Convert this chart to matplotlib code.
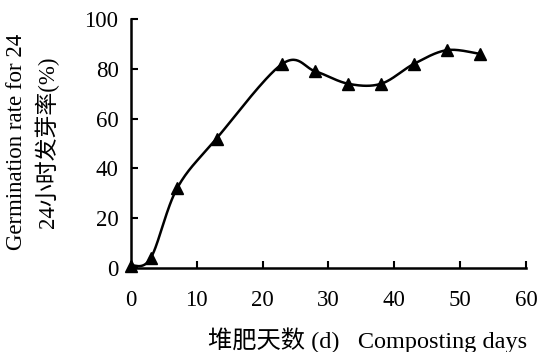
import numpy as np
import matplotlib
matplotlib.use('Agg')
import matplotlib.pyplot as plt

plt.rcParams['font.family'] = ['Liberation Serif', 'Noto Sans CJK SC']

days = [0, 3, 7, 13, 23, 28, 33, 38, 43, 48, 53]
rate = [1, 4, 32, 52, 82, 79, 74, 74, 82, 87.5, 86]
xticks = [0, 10, 20, 30, 40, 50, 60]
yticks = [0, 20, 40, 60, 80, 100]


def smooth(x, y, n=30):
    # Catmull-Rom style smoothing like a spreadsheet "smoothed line"
    x = np.asarray(x, float); y = np.asarray(y, float)
    px = np.concatenate([[x[0]], x, [x[-1]]])
    py = np.concatenate([[y[0]], y, [y[-1]]])
    xs, ys = [], []
    t = np.linspace(0, 1, n)
    for i in range(1, len(px) - 2):
        p0, p1, p2, p3 = [np.array([px[j], py[j]]) for j in (i - 1, i, i + 1, i + 2)]
        c1 = p1 + (p2 - p0) / 6
        c2 = p2 - (p3 - p1) / 6
        pts = ((1 - t) ** 3)[:, None] * p1 + (3 * (1 - t) ** 2 * t)[:, None] * c1 \
            + (3 * (1 - t) * t ** 2)[:, None] * c2 + (t ** 3)[:, None] * p2
        xs.append(pts[:, 0]); ys.append(pts[:, 1])
    return np.concatenate(xs), np.concatenate(ys)


fig = plt.figure(figsize=(5.38, 3.52), dpi=100)
ax = fig.add_axes([0.2435, 0.2386, 0.734, 0.7074])

sx, sy = smooth(days, rate)
ax.plot(sx, sy, color='black', lw=1.8, zorder=2)
ax.plot(days, rate, ls='none', marker='^', ms=8, color='black', zorder=3, clip_on=False)

ax.set_xlim(0, 60)
ax.set_ylim(0, 100)
ax.set_xticks(xticks)
ax.set_yticks(yticks)
ax.spines['top'].set_visible(False)
ax.spines['right'].set_visible(False)
for s in ('left', 'bottom'):
    ax.spines[s].set_linewidth(1.8)
ax.tick_params(axis='both', direction='in', length=5, width=1.5, labelsize=16.5)
ax.tick_params(axis='x', pad=16)
ax.tick_params(axis='y', pad=9)

fig.text(17 / 538, 0.597, 'Germination rate for 24', rotation=90, ha='center', va='center', fontsize=16.5)
fig.text(47 / 538, 0.597, '24小时发芽率(%)', rotation=90, ha='center', va='center', fontsize=16.5)
fig.text(368 / 538, 0.034, '堆肥天数 (d)   Composting days', ha='center', va='center', fontsize=17.5)

fig.savefig('out.png', dpi=100)
